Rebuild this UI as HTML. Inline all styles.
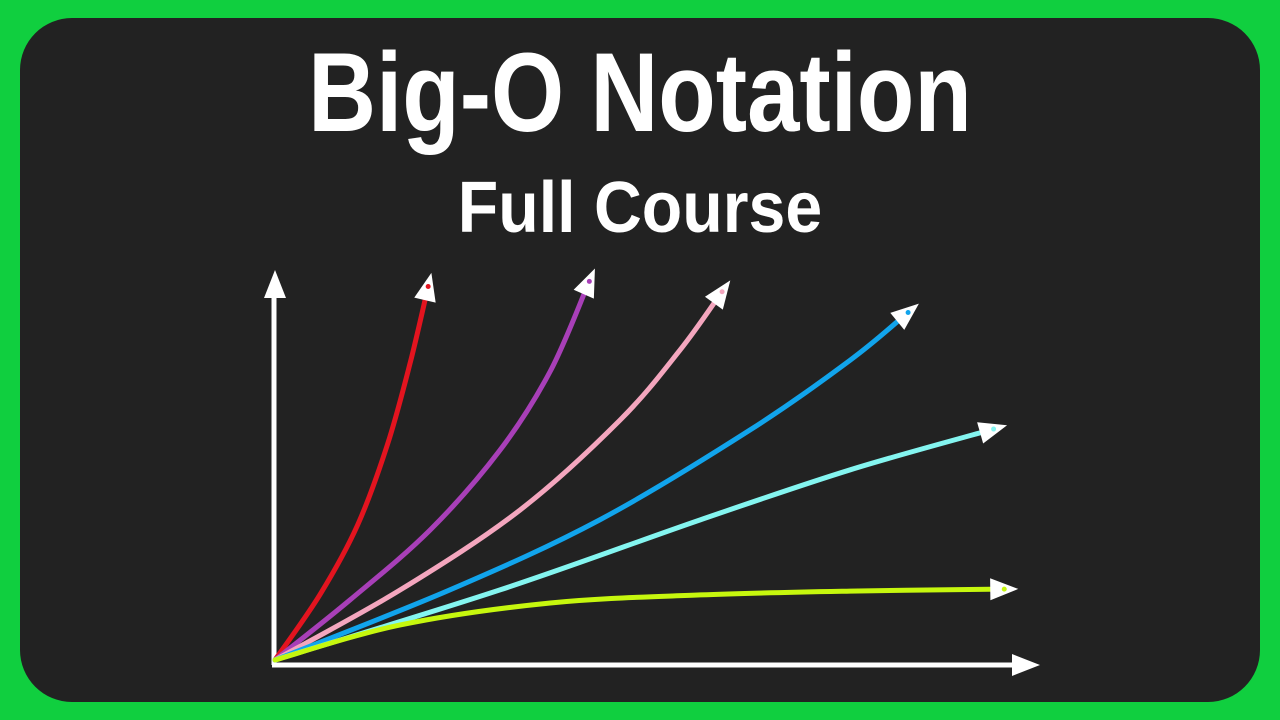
<!DOCTYPE html>
<html><head><meta charset="utf-8"><style>
html,body{margin:0;padding:0;width:1280px;height:720px;overflow:hidden;background:#10cf3f}
#card{position:absolute;left:20px;top:18px;width:1240px;height:684px;background:#222222;border-radius:52px}
.t{position:absolute;left:0;width:1280px;text-align:center;color:#fff;font-family:"Liberation Sans Narrow","Liberation Sans",sans-serif;font-weight:bold;white-space:nowrap}
#title{top:28px;font-size:112px;line-height:130px;transform:scaleX(0.84);transform-origin:640px 0}
#sub{top:166px;font-size:72px;line-height:84px;transform:scaleX(0.92);transform-origin:640px 0}
svg{position:absolute;left:0;top:0}
</style></head><body>
<div id="card"></div>
<div class="t" id="title">Big-O Notation</div>
<div class="t" id="sub">Full Course</div>
<svg id="chart" width="1280" height="720"></svg>
<script>
const seriesNames=["factorial","exponential","quadratic","nlogn","linear","log"];
const seriesColors=["#e3141f","#a83fb8","#f4a6be","#11a4ec","#84f5f0","#c6f70e"];
const redX=[0,0.6,1.1,1.5,1.8,2.03], redY=[0,1.7,3.5,5.6,7.7,9.6];
const purpleX=[0,1,2.07,3,3.67,4.17], purpleY=[0,1.56,3.38,5.45,7.5,9.74];
const pinkX=[0,1.67,3.27,4.6,5.4,5.93], pinkY=[0,1.82,3.9,6.23,8.05,9.48];
const blueX=[0,2.33,4.33,6.33,7.67,8.4], blueY=[0,1.82,3.64,5.97,7.79,8.96];
const cyanX=[0,3,5.67,7.67,9.53], cyanY=[0,1.82,3.64,4.94,5.97];
const greenX=[0,1.67,3.67,5.67,7.67,9.67], greenY=[0,0.91,1.48,1.69,1.79,1.84];
const allX=[redX,purpleX,pinkX,blueX,cyanX,greenX], allY=[redY,purpleY,pinkY,blueY,cyanY,greenY];
const sx=v=>275+v*75, sy=v=>660-v*38.5;
const svg=document.getElementById('chart'), NS="http://www.w3.org/2000/svg";
function mk(t,a){const e=document.createElementNS(NS,t);for(const k in a)e.setAttribute(k,a[k]);svg.appendChild(e);return e;}
function arrow(tx,ty,ang){const L=28,W=11;const bx=tx-L*Math.cos(ang),by=ty-L*Math.sin(ang);const nx=-Math.sin(ang)*W,ny=Math.cos(ang)*W;
 return mk('polygon',{points:`${tx},${ty} ${bx+nx},${by+ny} ${bx-nx},${by-ny}`,fill:'#fff'});}
const ya=mk('line',{x1:274,y1:665,x2:274,y2:295,stroke:'#fff','stroke-width':5});

const yh=arrow(275,270,-Math.PI/2);
const xa=mk('line',{x1:272,y1:665,x2:1015,y2:665,stroke:'#fff','stroke-width':5});

const xh=arrow(1040,665,0);
allX.forEach((xs,i)=>{
 const pts=xs.map((x,j)=>[sx(x),sy(allY[i][j])]);
 let d=`M${pts[0][0]},${pts[0][1]}`;
 for(let j=0;j<pts.length-1;j++){const p0=pts[Math.max(0,j-1)],p1=pts[j],p2=pts[j+1],p3=pts[Math.min(pts.length-1,j+2)];
  d+=` C${p1[0]+(p2[0]-p0[0])/6},${p1[1]+(p2[1]-p0[1])/6} ${p2[0]-(p3[0]-p1[0])/6},${p2[1]-(p3[1]-p1[1])/6} ${p2[0]},${p2[1]}`;}
 const path=mk('path',{d:d,fill:'none',stroke:seriesColors[i],'stroke-width':5,'stroke-linecap':'round'});
 
 
 const a=pts[pts.length-2],b=pts[pts.length-1];const ang=Math.atan2(b[1]-a[1],b[0]-a[0]);
 const h=arrow(b[0]+18*Math.cos(ang),b[1]+18*Math.sin(ang),ang);
 
 
 const c=mk('circle',{cx:b[0]+4*Math.cos(ang),cy:b[1]+4*Math.sin(ang),r:2.5,fill:seriesColors[i]});
 
 
});
</script>
</body></html>
